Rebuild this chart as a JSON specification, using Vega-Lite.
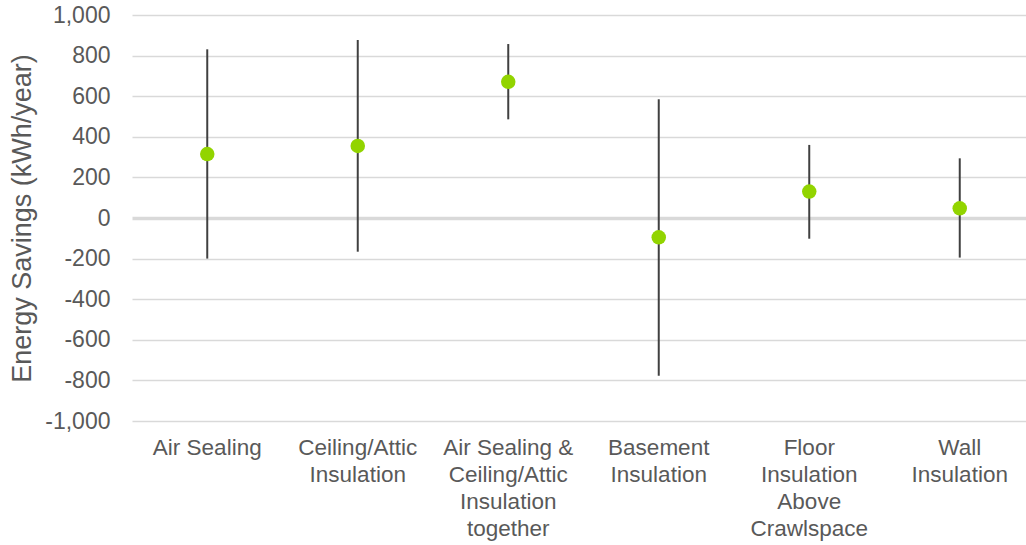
{
  "$schema": "https://vega.github.io/schema/vega-lite/v6.json",
  "autosize": "none",
  "padding": {"left": 132, "top": 15, "right": 0, "bottom": 124},
  "width": 894,
  "height": 406,
  "background": "white",
  "config": {
    "view": {"stroke": null},
    "font": "Liberation Sans"
  },
  "data": {
    "values": [
      {"measure": "Air Sealing", "mean": 315, "low": -200, "high": 831},
      {"measure": "Ceiling/Attic|Insulation", "mean": 355, "low": -166, "high": 877},
      {"measure": "Air Sealing &|Ceiling/Attic|Insulation|together", "mean": 671, "low": 486, "high": 857},
      {"measure": "Basement|Insulation", "mean": -95, "low": -777, "high": 585},
      {"measure": "Floor|Insulation|Above|Crawlspace", "mean": 130, "low": -102, "high": 360},
      {"measure": "Wall|Insulation", "mean": 48, "low": -195, "high": 294}
    ]
  },
  "encoding": {
    "x": {
      "field": "measure",
      "type": "nominal",
      "sort": null,
      "scale": {"range": [0, 903], "paddingInner": 0, "paddingOuter": 0},
      "axis": {
        "title": null,
        "domain": false,
        "ticks": false,
        "grid": false,
        "labelAngle": 0,
        "labelExpr": "split(datum.value, '|')",
        "labelFontSize": 22.5,
        "labelLineHeight": 27,
        "labelColor": "#595959",
        "labelPadding": 15,
        "labelBaseline": "top",
        "labelLimit": 200
      }
    }
  },
  "layer": [
    {
      "mark": {"type": "rule", "color": "#404040", "strokeWidth": 2},
      "encoding": {
        "y": {
          "field": "low",
          "type": "quantitative",
          "scale": {"domain": [-1000, 1000], "nice": false},
          "axis": {
            "title": "Energy Savings (kWh/year)",
            "titleFontSize": 27,
            "titleFontWeight": "normal",
            "titleColor": "#595959",
            "titlePadding": 8,
            "values": [-1000, -800, -600, -400, -200, 0, 200, 400, 600, 800, 1000],
            "labelExpr": "replace(format(datum.value, ',.0f'), '\u2212', '-')",
            "domain": false,
            "ticks": false,
            "labelFontSize": 23,
            "labelColor": "#595959",
            "labelPadding": 22,
            "gridColor": "#d9d9d9",
            "gridWidth": {"condition": {"test": "datum.value === 0", "value": 3.5}, "value": 1.5}
          }
        },
        "y2": {"field": "high"}
      }
    },
    {
      "mark": {"type": "point", "filled": true, "opacity": 1, "color": "#92d400", "size": 210, "shape": "circle"},
      "encoding": {
        "y": {"field": "mean", "type": "quantitative"}
      }
    }
  ]
}
